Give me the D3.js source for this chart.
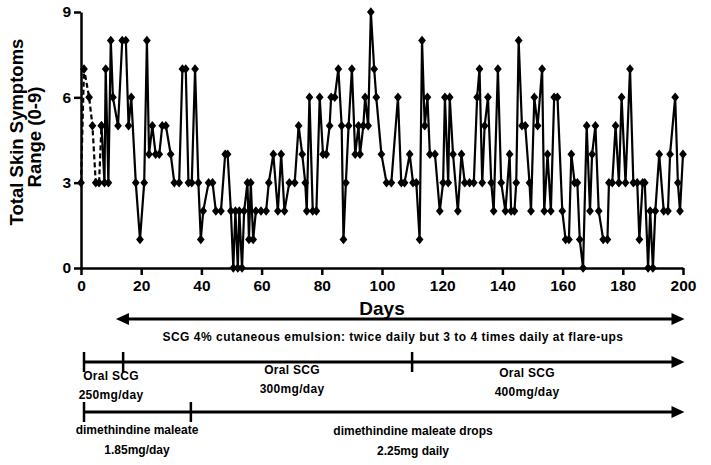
<!DOCTYPE html>
<html><head><meta charset="utf-8">
<script src="https://cdn.jsdelivr.net/npm/d3@7"></script>
<style>body{margin:0;background:#fff}svg{display:block}text{font-family:"Liberation Sans",Arial,sans-serif;font-weight:bold;fill:#000}</style>
</head><body>
<script>
// ---- data ----
const xTicks = [0,20,40,60,80,100,120,140,160,180,200];
const yTicks = [0,3,6,9];
const dashedDays = [0,1,2.7,3.8,4.9,6,6.8];
const dashedSymptoms = [3,7,6,5,3,3,5];
const days = [6.8,7.8,8.2,9.1,9.9,10.6,12.3,13.7,14.9,15.8,16.7,18.2,19.6,21,21.9,22.6,23.7,24.8,26,27,28.2,29.8,31,32.6,33.7,34.8,35.7,36.8,37.9,39,39.8,40.6,42.4,43.7,44.8,46.5,47.9,48.7,49.8,50.6,51.3,52.1,52.6,53.5,54.2,55.3,55.8,56.4,57.2,58.1,59.8,61.5,62.4,63.9,65.4,66.5,67.6,69.2,71,72.3,73.5,74.5,75,75.9,77,78.2,79.3,80.4,81.5,82.6,83.1,84.3,85.5,86.6,87.2,88,88.9,90,91.1,92.2,92.7,93.8,94.4,95.4,96.3,97.4,98.1,99.8,101.5,103.1,105.3,106.4,107.5,109.2,110.3,111.4,112.5,113.3,114.2,115.1,115.9,117.6,119.2,120.3,120.9,122,122.5,123.6,125.2,126.4,127.5,129.1,130.5,131.6,132.4,133.3,134.1,135.2,136.3,137.1,138.5,139.6,141,142.4,142.9,144,144.6,145.4,146.5,147.6,149,149.5,150.6,151.7,153.2,153.9,155,156.1,157.2,158.3,159.9,161,162.1,162.9,164,164.9,165.7,166.8,168,169.1,169.8,170.9,172,173.5,174.9,175.4,176.5,177.6,178.7,179.6,180.9,182.4,183.5,184.8,185.5,186.6,187.3,188.4,189.1,190,190.8,192.1,193.6,195,195.7,197.4,198.3,199,200];
const symptoms = [5,3,7,3,8,6,5,8,8,5,6,3,1,3,8,4,5,4,4,5,5,4,3,3,7,7,3,3,7,3,1,2,3,3,2,2,4,4,2,0,2,0,2,0,2,3,1,3,1,2,2,2,3,4,2,4,2,3,3,5,4,3,2,6,2,2,6,4,4,5,6,6,7,5,1,3,5,7,4,5,4,5,6,5,9,7,6,4,3,3,6,3,3,4,3,3,1,8,5,6,4,4,2,3,6,3,6,4,2,4,3,3,3,6,7,3,5,6,3,2,7,3,2,4,2,2,3,8,5,5,3,2,6,5,7,2,4,2,6,6,2,1,1,4,3,3,1,0,5,2,4,5,2,1,1,3,3,5,3,6,3,7,3,3,1,3,3,0,2,0,2,4,2,2,4,6,3,2,4];
const yTitle = ["Total  Skin Symptoms","Range (0-9)"];
const xTitle = "Days";
const topNote = "SCG 4% cutaneous emulsion: twice daily but 3 to 4 times daily at flare-ups";
const oralBreaks = [1,14,110];
const oralLabels = [["Oral SCG","250mg/day"],["Oral SCG","300mg/day"],["Oral SCG","400mg/day"]];
const dimBreaks = [1,36.5];
const dimLabels = [["dimethindine maleate","1.85mg/day"],["dimethindine maleate  drops","2.25mg daily"]];

// ---- chart ----
const W=711,H=465;
const svg=d3.select("body").append("svg").attr("width",W).attr("height",H);
const x=d3.scaleLinear().domain([0,200]).range([81,683]);
const y=d3.scaleLinear().domain([0,9]).range([268,12]);

const ax=svg.append("g").attr("transform","translate(0,268)")
  .call(d3.axisBottom(x).tickValues(xTicks).tickSize(7).tickSizeOuter(0).tickPadding(4));
const ay=svg.append("g").attr("transform","translate(81,0)")
  .call(d3.axisLeft(y).tickValues(yTicks).tickSize(7).tickSizeOuter(0).tickPadding(3));
[ax,ay].forEach(g=>{
  g.select(".domain").attr("stroke","#000").attr("stroke-width",2.5);
  g.selectAll(".tick line").attr("stroke","#000").attr("stroke-width",2.5);
  g.selectAll(".tick text").style("font-size","15.5px").style("font-weight","bold").attr("fill","#000");
});
ax.selectAll(".tick text").attr("dy","0.75em");

const line=d3.line().x(d=>x(d[0])).y(d=>y(d[1]));
const dashed=dashedDays.map((d,i)=>[d,dashedSymptoms[i]]);
const solid=days.map((d,i)=>[d,symptoms[i]]);
svg.append("path").datum(dashed).attr("d",line).attr("fill","none").attr("stroke","#000")
  .attr("stroke-width",2.2).attr("stroke-dasharray","5,3");
svg.append("path").datum(solid).attr("d",line).attr("fill","none").attr("stroke","#000")
  .attr("stroke-width",2.2).attr("stroke-linejoin","round");
const sym=d3.symbol().type(d3.symbolDiamond).size(36);
svg.append("g").selectAll("path").data(dashed.concat(solid)).join("path")
  .attr("d",sym).attr("transform",d=>`translate(${x(d[0])},${y(d[1])}) scale(1.2,0.85)`).attr("fill","#000");

// y title
yTitle.forEach((t,i)=>{
  svg.append("text").attr("transform",`translate(${[23,41][i]},${[132,137][i]}) rotate(-90)`)
    .attr("text-anchor","middle").style("font-size","18.5px").text(t);
});
svg.append("text").attr("x",x(100)).attr("y",315).attr("text-anchor","middle").style("font-size","19px").text(xTitle);

// arrowheads
function head(px,py,dir){
  const L=13,h=6;
  svg.append("path").attr("d",`M${px},${py}L${px-dir*L},${py-h}L${px-dir*L},${py+h}Z`).attr("fill","#000");
}
function hline(x1,x2,yy){
  svg.append("line").attr("x1",x1).attr("x2",x2).attr("y1",yy).attr("y2",yy).attr("stroke","#000").attr("stroke-width",3);
}
// arrow 1
const a1y=319;
hline(x(11.6)+8,x(200.5)-8,a1y); head(x(11.6),a1y,-1); head(x(200.5),a1y,1);
svg.append("text").attr("x",393).attr("y",341).attr("text-anchor","middle").style("font-size","12px").style("letter-spacing","0.5px").text(topNote);
// arrow 2
const a2y=362;
hline(x(oralBreaks[0]),x(200.5)-8,a2y); head(x(200.5),a2y,1);
oralBreaks.forEach(b=>svg.append("line").attr("x1",x(b)).attr("x2",x(b)).attr("y1",a2y-10).attr("y2",a2y+10).attr("stroke","#000").attr("stroke-width",2.5));
const oralPos=[[111,380],[292,374],[527,377]];
oralLabels.forEach((l,i)=>l.forEach((t,j)=>svg.append("text").attr("x",oralPos[i][0]).attr("y",oralPos[i][1]+j*19)
  .attr("text-anchor","middle").style("font-size","12px").style("letter-spacing","0.3px").text(t)));
// arrow 3
const a3y=412;
hline(x(dimBreaks[0]),x(200.5)-8,a3y); head(x(200.5),a3y,1);
dimBreaks.forEach(b=>svg.append("line").attr("x1",x(b)).attr("x2",x(b)).attr("y1",a3y-10).attr("y2",a3y+10).attr("stroke","#000").attr("stroke-width",2.5));
const dimPos=[[137,434],[413,435]];
dimLabels.forEach((l,i)=>l.forEach((t,j)=>svg.append("text").attr("x",dimPos[i][0]).attr("y",dimPos[i][1]+j*20)
  .attr("text-anchor","middle").style("font-size","12px").text(t)));
</script>
</body></html>
